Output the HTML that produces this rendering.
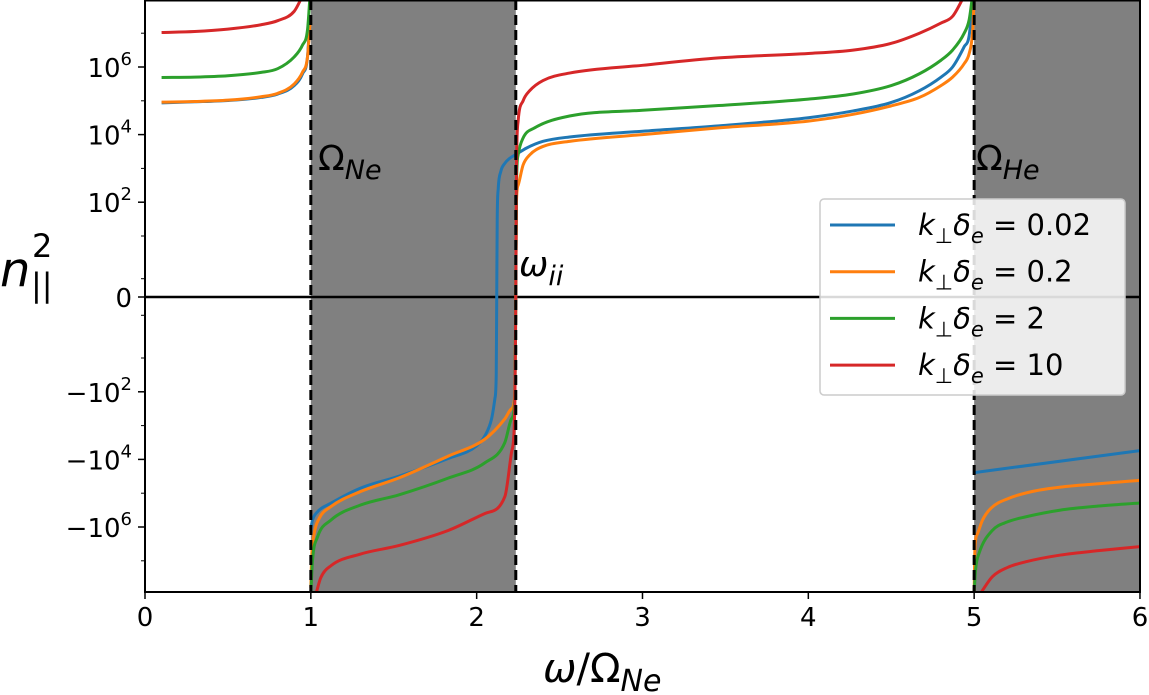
<!DOCTYPE html>
<html><head><meta charset="utf-8">
<style>
html,body{margin:0;padding:0;background:#fff;}
svg{display:block;font-family:"DejaVu Sans","Liberation Sans",sans-serif;}
</style></head>
<body>
<div style="position:relative;width:1149px;height:695px;">
<svg id="chart" width="1149" height="695" viewBox="0 0 1149 695" xmlns="http://www.w3.org/2000/svg" style="position:absolute;left:0;top:0;">
<defs><clipPath id="clip"><rect x="145" y="0" width="995" height="592"/></clipPath></defs>
<g id="bg" clip-path="url(#clip)"></g>
<g id="lines" clip-path="url(#clip)"></g>
<g id="axes"></g>
<text x="318" y="170" font-size="35">Ω<tspan font-style="italic" font-size="27" dy="9">Ne</tspan></text>
<text x="976" y="170" font-size="35">Ω<tspan font-style="italic" font-size="27" dy="9">He</tspan></text>
<text x="519" y="276" font-size="35" font-style="italic">ω<tspan font-size="27" dy="9">ii</tspan></text>
<text x="0" y="286" font-size="48" font-style="italic">n</text>
<text x="32" y="257" font-size="32">2</text>
<text x="31" y="296" font-size="32">||</text>
<text x="543" y="682" font-size="40"><tspan font-style="italic">ω</tspan>/Ω<tspan font-style="italic" font-size="30" dy="9">Ne</tspan></text>
</svg>
</div>
<script>
// ---- data (x in ω/Ω_Ne; y as signed log10 magnitude, 0 = zero) ----
const xTicks = [0,1,2,3,4,5,6];
const yTickMags = [6,4,2,0,-2,-4,-6];
const yMinorMags = [7,5,3,1,-1,-3,-5,-7];
const shadedRanges = [[1,2.236],[5,6]];
const dashedLines = [1,2.236,5];
const seriesLabels = ["0.02","0.2","2","10"];
const seriesColors = ["#1f77b4","#ff7f0e","#2ca02c","#d62728"];

const blueAx=[0.1,0.3,0.5,0.7,0.8,0.9,0.95,0.98,0.995];
const blueAy=[4.94,4.97,5.01,5.1,5.2,5.45,5.8,6.3,7.5];
const blueBx=[1.0,1.01,1.04,1.12,1.3,1.53,1.83,2.0,2.05,2.09,2.11,2.118,2.121,2.124,2.13,2.145,2.17,2.2,2.24,2.3,2.4,2.56,3.0,3.46,4.0,4.27,4.5,4.67,4.8,4.87,4.94,4.97,4.99];
const blueBy=[-6.05,-5.8,-5.55,-5.3,-4.85,-4.5,-3.97,-3.6,-3.3,-2.8,-2.2,-1.5,0,1.5,2.4,2.9,3.15,3.3,3.42,3.6,3.8,3.93,4.1,4.26,4.5,4.7,4.95,5.3,5.7,6.0,6.6,6.93,7.9];
const blueDx=[5.0,6.0];
const blueDy=[-4.39,-3.74];

const orangeAx=[0.1,0.3,0.5,0.7,0.8,0.9,0.95,0.98,0.995];
const orangeAy=[4.96,4.98,5.02,5.12,5.22,5.5,5.85,6.3,7.3];
const orangeBx=[1.0,1.005,1.02,1.05,1.12,1.3,1.53,1.83,2.05,2.17,2.21,2.23,2.236];
const orangeBy=[-7.8,-6.9,-6.2,-5.75,-5.4,-4.95,-4.55,-3.9,-3.4,-2.8,-2.5,-2.1,0];
const orangeCx=[2.236,2.24,2.25,2.28,2.32,2.4,2.56,3.0,3.46,4.0,4.27,4.5,4.67,4.8,4.87,4.94,4.97,4.99,5.0];
const orangeCy=[0,2.0,2.5,3.1,3.4,3.65,3.8,4.0,4.2,4.4,4.6,4.85,5.1,5.45,5.7,6.1,6.4,7.0,8.0];
const orangeDx=[5.0,5.005,5.02,5.05,5.1,5.21,5.35,5.52,5.75,6.0];
const orangeDy=[-7.9,-6.6,-6.2,-5.8,-5.45,-5.15,-4.95,-4.82,-4.72,-4.62];

const greenAx=[0.1,0.3,0.5,0.7,0.8,0.9,0.95,0.98,0.995];
const greenAy=[5.69,5.70,5.74,5.84,5.95,6.3,6.65,7.1,8.1];
const greenBx=[1.0,1.01,1.04,1.12,1.3,1.53,1.83,2.05,2.17,2.21,2.23,2.236];
const greenBy=[-8.0,-7.0,-6.3,-5.8,-5.35,-5.05,-4.55,-4.1,-3.5,-2.8,-2.2,0];
const greenCx=[2.236,2.24,2.25,2.28,2.35,2.56,3.0,3.46,4.0,4.27,4.5,4.67,4.8,4.87,4.94,4.97,4.99];
const greenCy=[0,2.5,3.4,3.9,4.2,4.55,4.72,4.86,5.05,5.2,5.45,5.8,6.2,6.5,7.0,7.4,8.1];
const greenDx=[5.0,5.01,5.03,5.11,5.2,5.31,5.52,5.75,6.0];
const greenDy=[-7.9,-7.2,-6.77,-6.1,-5.85,-5.7,-5.5,-5.38,-5.29];

const redAx=[0.1,0.3,0.5,0.7,0.8,0.9,0.95];
const redAy=[7.02,7.05,7.12,7.25,7.37,7.65,8.1];
const redBx=[1.03,1.06,1.12,1.3,1.53,1.83,2.05,2.17,2.21,2.23,2.236];
const redBy=[-8.0,-7.5,-7.15,-6.8,-6.55,-6.1,-5.6,-5.1,-3.8,-2.5,0];
const redCx=[2.236,2.24,2.25,2.28,2.32,2.4,2.56,3.0,3.46,4.0,4.27,4.5,4.67,4.8,4.87,4.94];
const redCy=[0,3.0,4.4,5.0,5.3,5.6,5.82,6.05,6.27,6.4,6.5,6.7,7.0,7.3,7.5,8.1];
const redDx=[5.04,5.11,5.2,5.31,5.52,5.75,6.0];
const redDy=[-7.95,-7.47,-7.2,-7.03,-6.83,-6.7,-6.58];

// ---- axis functions ----
const X0=145, XS=165.83, Y0=297, LIN=61, DEC=33.8;
function sx(x){return X0+XS*x;}
function sy(m){
  if(m===0) return Y0;
  const s=Math.sign(m), a=Math.abs(m);
  const v=Math.pow(10,a);
  const off = v>=10 ? LIN+DEC*(a-1) : LIN*v/10;
  return Y0 - s*off;
}
// monotone cubic (Fritsch-Carlson) path in screen space
function smoothPath(px,py){
  const n=px.length;
  if(n<3) return 'M'+px.map((x,i)=>x.toFixed(1)+','+py[i].toFixed(1)).join(' L');
  const d=[],m=new Array(n);
  for(let i=0;i<n-1;i++) d.push((py[i+1]-py[i])/(px[i+1]-px[i]));
  m[0]=d[0]; m[n-1]=d[n-2];
  for(let i=1;i<n-1;i++){ m[i]=(d[i-1]*d[i]<=0)?0:(d[i-1]+d[i])/2; }
  for(let i=0;i<n-1;i++){
    if(d[i]===0){m[i]=0;m[i+1]=0;continue;}
    const a=m[i]/d[i], b=m[i+1]/d[i], s=a*a+b*b;
    if(s>9){const t=3/Math.sqrt(s); m[i]=t*a*d[i]; m[i+1]=t*b*d[i];}
  }
  let p='M'+px[0].toFixed(2)+','+py[0].toFixed(2);
  for(let i=0;i<n-1;i++){
    const h=(px[i+1]-px[i])/3;
    p+=' C'+(px[i]+h).toFixed(2)+','+(py[i]+m[i]*h).toFixed(2)+' '+(px[i+1]-h).toFixed(2)+','+(py[i+1]-m[i+1]*h).toFixed(2)+' '+px[i+1].toFixed(2)+','+py[i+1].toFixed(2);
  }
  return p;
}
const NS="http://www.w3.org/2000/svg";
function mk(tag,attrs,parent){const e=document.createElementNS(NS,tag);for(const k in attrs)e.setAttribute(k,attrs[k]);parent.appendChild(e);return e;}
const bg=document.getElementById('bg'), lines=document.getElementById('lines'), axes=document.getElementById('axes');

shadedRanges.forEach(r=>{
  const e=mk('rect',{x:sx(r[0]),y:0,width:sx(r[1])-sx(r[0]),height:592,fill:'#808080'},bg);
  
  
});
const zl=mk('line',{x1:145,x2:1140,y1:sy(0),y2:sy(0),stroke:'#000','stroke-width':2.5},bg);



const series=[
 [[blueAx,blueAy],[blueBx,blueBy],[blueDx,blueDy]],
 [[orangeAx,orangeAy],[orangeBx,orangeBy],[orangeCx,orangeCy],[orangeDx,orangeDy]],
 [[greenAx,greenAy],[greenBx,greenBy],[greenCx,greenCy],[greenDx,greenDy]],
 [[redAx,redAy],[redBx,redBy],[redCx,redCy],[redDx,redDy]]
];
series.forEach((segs,i)=>{
  segs.forEach(sg=>{
    const px=sg[0].map(sx), py=sg[1].map(sy);
    const p=mk('path',{d:smoothPath(px,py),fill:'none',stroke:seriesColors[i],'stroke-width':3,'stroke-linejoin':'round'},lines);
    
    
  });
});
dashedLines.forEach(x=>{
  const d=mk('line',{x1:sx(x),x2:sx(x),y1:0,y2:592,stroke:'#000','stroke-width':3,'stroke-dasharray':'10,5'},lines);
  
  
});

const fr=mk('rect',{x:145,y:0.5,width:995,height:591.5,fill:'none',stroke:'#000','stroke-width':2},axes);



xTicks.forEach(t=>{
  const tk=mk('line',{x1:sx(t),x2:sx(t),y1:592,y2:599,stroke:'#000','stroke-width':1.5},axes);
  
  
  const tl=mk('text',{x:sx(t),y:626,'font-size':26,'text-anchor':'middle'},axes);
  tl.textContent=String(t);
  
  
});
yTickMags.forEach(m=>{
  const y=sy(m);
  const tk=mk('line',{x1:138,x2:145,y1:y,y2:y,stroke:'#000','stroke-width':1.5},axes);
  
  
  const tl=mk('text',{x:132,y:y+10,'font-size':26,'text-anchor':'end'},axes);
  if(m===0){tl.textContent='0';}
  else{
    const b=mk('tspan',{},tl); b.textContent=(m<0?'\u221210':'10');
    const e=mk('tspan',{dy:-12,'font-size':18},tl); e.textContent=String(Math.abs(m));
  }
  
  
});
yMinorMags.concat([0.477,-0.477]).forEach(m=>{
  const y=sy(m);
  const tk=mk('line',{x1:141,x2:145,y1:y,y2:y,stroke:'#000','stroke-width':1},axes);
  
  
});

const lg=mk('g',{},axes);


mk('rect',{x:820,y:199,width:305,height:196,rx:4,fill:'#fff','fill-opacity':0.85,stroke:'#ccc','stroke-width':1.5},lg);
seriesLabels.forEach((lab,i)=>{
  const y=225+i*46.7;
  const en=mk('g',{},lg);
  
  
  mk('line',{x1:830,x2:895,y1:y,y2:y,stroke:seriesColors[i],'stroke-width':3},en);
  const t=mk('text',{x:918,y:y+10,'font-size':29},en);
  const a=mk('tspan',{'font-style':'italic'},t); a.textContent='k';
  const b=mk('tspan',{dy:8,'font-size':21},t); b.textContent='\u22A5';
  const c=mk('tspan',{dy:-8,'font-style':'italic'},t); c.textContent='\u03B4';
  const d=mk('tspan',{dy:8,'font-size':21,'font-style':'italic'},t); d.textContent='e';
  const e2=mk('tspan',{dy:-8},t); e2.textContent=' = '+lab;
});
</script>
</body></html>
